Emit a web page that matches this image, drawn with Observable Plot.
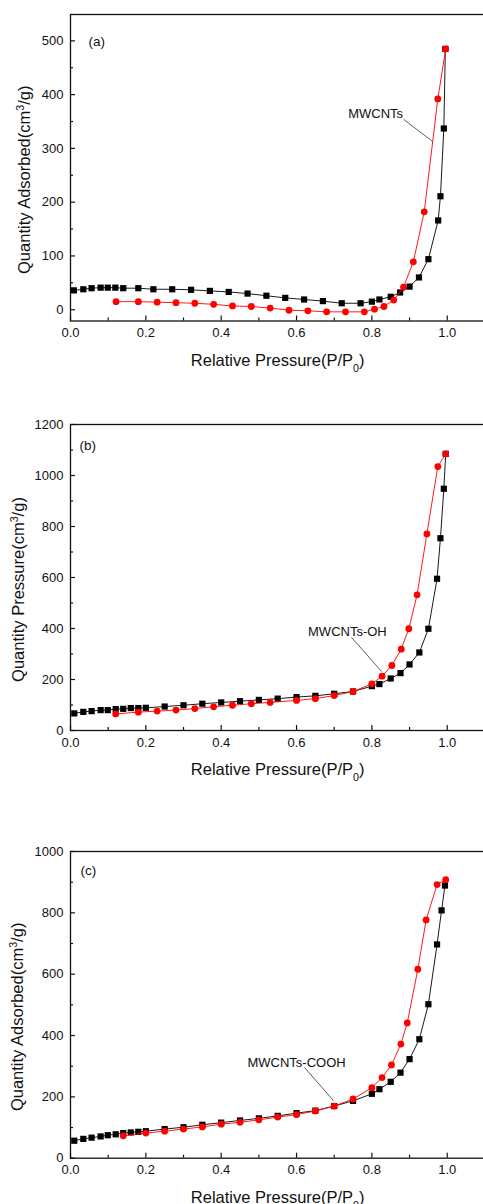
<!DOCTYPE html>
<html>
<head>
<meta charset="utf-8">
<script src="https://cdn.jsdelivr.net/npm/d3@7"></script>
<script src="https://cdn.jsdelivr.net/npm/@observablehq/plot@0.6"></script>
<style>
html, body { margin: 0; padding: 0; background: #fff; overflow: hidden; width: 483px; height: 1204px; }
#wrap { position: relative; width: 483px; height: 1204px; overflow: hidden; }
.panel { position: absolute; left: 0; width: 483px; }
</style>
</head>
<body>
<div id="wrap"></div>
<script>
// ---------- shared axis data ----------
const xMajor = [0, 0.2, 0.4, 0.6, 0.8, 1.0];
const xMinor = [0.1, 0.3, 0.5, 0.7, 0.9];
const xTitle = "Relative Pressure(P/P₀)";

// ---------- panel (a) MWCNTs ----------
const aTag = "(a)";
const aYTitle = "Quantity Adsorbed(cm³/g)";
const aYMajor = [0, 100, 200, 300, 400, 500];
const aYMinor = [50, 150, 250, 350, 450];
const aAdsX = [0.009, 0.034, 0.056, 0.080, 0.099, 0.119, 0.140, 0.18, 0.22, 0.27, 0.32, 0.37, 0.42, 0.47, 0.52, 0.57, 0.62, 0.67, 0.72, 0.77, 0.80, 0.82, 0.85, 0.875, 0.90, 0.925, 0.95, 0.976, 0.982, 0.991, 0.995];
const aAdsY = [36, 38, 40, 41, 41, 41, 40, 40, 38, 38, 37, 35, 33, 30, 26, 22, 19, 16, 12, 12, 15, 19, 24, 32, 43, 60, 94, 166, 211, 337, 485];
const aDesX = [0.121, 0.18, 0.23, 0.28, 0.33, 0.38, 0.43, 0.48, 0.53, 0.58, 0.63, 0.68, 0.73, 0.78, 0.807, 0.832, 0.858, 0.884, 0.91, 0.939, 0.975, 0.996];
const aDesY = [15, 15, 14, 13, 12, 10, 7, 6, 3, -1, -2, -4, -4, -4, 1, 6, 18, 42, 89, 182, 392, 485];
const aNote = {text: "MWCNTs", x: 0.810, y: 365, x1: 0.884, y1: 354, x2: 0.961, y2: 313};

// ---------- panel (b) MWCNTs-OH ----------
const bTag = "(b)";
const bYTitle = "Quantity Pressure(cm³/g)";
const bYMajor = [0, 200, 400, 600, 800, 1000, 1200];
const bYMinor = [100, 300, 500, 700, 900, 1100];
const bAdsX = [0.01, 0.034, 0.056, 0.08, 0.099, 0.12, 0.14, 0.16, 0.18, 0.20, 0.25, 0.30, 0.35, 0.40, 0.45, 0.50, 0.55, 0.60, 0.65, 0.70, 0.75, 0.80, 0.82, 0.85, 0.876, 0.90, 0.926, 0.95, 0.973, 0.982, 0.991, 0.996];
const bAdsY = [67, 73, 76, 80, 80, 84, 85, 88, 88, 89, 94, 99, 105, 110, 115, 120, 125, 131, 136, 144, 153, 174, 182, 204, 225, 259, 306, 399, 595, 754, 948, 1085];
const bDesX = [0.12, 0.18, 0.23, 0.28, 0.33, 0.38, 0.43, 0.48, 0.53, 0.60, 0.65, 0.70, 0.75, 0.80, 0.827, 0.853, 0.878, 0.898, 0.92, 0.946, 0.975, 0.996];
const bDesY = [65, 72, 76, 80, 86, 93, 99, 105, 110, 118, 125, 137, 153, 183, 213, 255, 319, 399, 532, 771, 1035, 1085];
const bNote = {text: "MWCNTs-OH", x: 0.735, y: 388, x1: 0.746, y1: 365, x2: 0.826, y2: 231};

// ---------- panel (c) MWCNTs-COOH ----------
const cTag = "(c)";
const cYTitle = "Quantity Adsorbed(cm³/g)";
const cYMajor = [0, 200, 400, 600, 800, 1000];
const cYMinor = [100, 300, 500, 700, 900];
const cAdsX = [0.01, 0.034, 0.056, 0.08, 0.099, 0.12, 0.14, 0.16, 0.18, 0.20, 0.25, 0.30, 0.35, 0.40, 0.45, 0.50, 0.55, 0.60, 0.65, 0.70, 0.75, 0.80, 0.82, 0.85, 0.876, 0.90, 0.926, 0.95, 0.973, 0.985, 0.994];
const cAdsY = [57, 63, 67, 71, 75, 78, 82, 84, 86, 88, 95, 101, 109, 116, 123, 130, 138, 147, 155, 170, 187, 210, 225, 249, 279, 323, 388, 502, 697, 808, 889];
const cDesX = [0.14, 0.20, 0.25, 0.30, 0.35, 0.40, 0.45, 0.50, 0.55, 0.60, 0.65, 0.70, 0.75, 0.80, 0.827, 0.852, 0.877, 0.894, 0.922, 0.944, 0.973, 0.996];
const cDesY = [73, 82, 88, 95, 102, 111, 117, 125, 134, 142, 154, 170, 193, 230, 263, 304, 372, 441, 616, 777, 892, 908];
const cNote = {text: "MWCNTs-COOH", x: 0.600, y: 312, x1: 0.621, y1: 296, x2: 0.698, y2: 188};

const FONT = "'Liberation Sans', Arial, Helvetica, sans-serif";
const zip = (xs, ys) => xs.map((x, i) => ({x, y: ys[i]}));

function richText(svg) {
  d3.select(svg).selectAll("text").each(function () {
    const s = this.textContent;
    if (!/[³₀]/.test(s)) return;
    const el = d3.select(this);
    el.text(null);
    for (const p of s.split(/([³₀])/)) {
      if (!p) continue;
      if (p === "³") el.append("tspan").attr("baseline-shift", "super").attr("font-size", "65%").text("3");
      else if (p === "₀") el.append("tspan").attr("baseline-shift", "sub").attr("font-size", "65%").text("0");
      else el.append("tspan").text(p);
    }
  });
}

function panel(o) {
  const ads = zip(o.adsX, o.adsY);
  const des = zip(o.desX, o.desY);
  const svg = Plot.plot({
    width: 483,
    height: o.height,
    marginLeft: 70,
    marginRight: -1.4,
    marginTop: o.marginTop,
    marginBottom: o.marginBottom,
    style: {fontFamily: FONT, fontSize: "13px", color: "#111", background: "white", overflow: "visible"},
    x: {domain: [0, 1.1]},
    y: {domain: o.yDomain},
    marks: [
      Plot.frame({stroke: "#111", strokeWidth: 1.3}),
      Plot.axisX(xMajor, {tickSize: 0, tickPadding: 7, tickFormat: d3.format(".1f"), label: null, fontSize: 13}),
      Plot.axisX(xMajor, {tickSize: -5, text: null, label: null, strokeWidth: 1.2}),
      Plot.axisX(xMinor, {tickSize: -3, text: null, label: null, strokeWidth: 1.2}),
      Plot.axisY(o.yMajor, {tickSize: 0, tickPadding: 7, tickFormat: d3.format("d"), label: null, fontSize: 13}),
      Plot.axisY(o.yMajor, {tickSize: -5, text: null, label: null, strokeWidth: 1.2}),
      Plot.axisY(o.yMinor, {tickSize: -3, text: null, label: null, strokeWidth: 1.2}),
      Plot.line(ads, {x: "x", y: "y", stroke: "#000", strokeWidth: 0.9}),
      Plot.dot(ads, {x: "x", y: "y", symbol: "square", fill: "#000", r: 3.5}),
      Plot.line(des, {x: "x", y: "y", stroke: "#ff0000", strokeWidth: 0.9}),
      Plot.dot(des, {x: "x", y: "y", symbol: "circle", fill: "#ff0000", r: 3.4}),
      Plot.link([o.note], {x1: "x1", y1: "y1", x2: "x2", y2: "y2", stroke: "#333", strokeWidth: 0.8}),
      Plot.text([o.note], {x: "x", y: "y", text: "text", fontSize: 13, fill: "#111"}),
      Plot.text([o.tag], {frameAnchor: "top-left", dx: o.tagDx, dy: o.tagDy, textAnchor: "start", fontSize: 13.5, fill: "#111"}),
      Plot.text([xTitle], {frameAnchor: "bottom", dy: 44.5, lineAnchor: "bottom", textAnchor: "middle", fontSize: 16.5, fill: "#111"}),
      Plot.text([o.yTitle], {frameAnchor: "left", dx: o.yTitleDx, dy: 12, rotate: -90, textAnchor: "middle", lineAnchor: "middle", fontSize: 16.5, fill: "#111"})
    ]
  });
  richText(svg);
  const div = document.createElement("div");
  div.className = "panel";
  div.style.top = o.top + "px";
  div.appendChild(svg);
  document.getElementById("wrap").appendChild(div);
}

panel({top: 0, height: 400, marginTop: 14, marginBottom: 79.5, yDomain: [-21, 549],
  yMajor: aYMajor, yMinor: aYMinor, yTitle: aYTitle, yTitleDx: -46, tag: aTag, tagDx: 18, tagDy: 22,
  adsX: aAdsX, adsY: aAdsY, desX: aDesX, desY: aDesY, note: aNote});
panel({top: 400, height: 400, marginTop: 24, marginBottom: 70, yDomain: [0, 1200],
  yMajor: bYMajor, yMinor: bYMinor, yTitle: bYTitle, yTitleDx: -52, tag: bTag, tagDx: 9, tagDy: 16,
  adsX: bAdsX, adsY: bAdsY, desX: bDesX, desY: bDesY, note: bNote});
panel({top: 800, height: 404, marginTop: 51, marginBottom: 46.3, yDomain: [0, 1000],
  yMajor: cYMajor, yMinor: cYMinor, yTitle: cYTitle, yTitleDx: -53, tag: cTag, tagDx: 10, tagDy: 14,
  adsX: cAdsX, adsY: cAdsY, desX: cDesX, desY: cDesY, note: cNote});
</script>
</body>
</html>
